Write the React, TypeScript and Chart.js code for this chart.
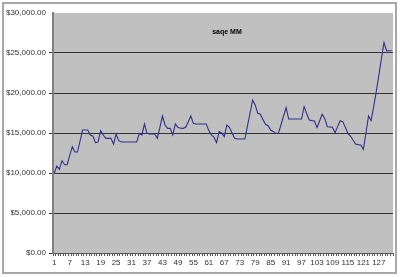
import React, { useEffect, useRef } from 'react';
import { Chart, registerables } from 'chart.js';

Chart.register(...registerables);

const categories: string[] = Array.from({ length: 132 }, (_, i) => String(i + 1));

const values: number[] = [
  10000, 10870, 10460, 11540, 11040, 11040, 12200, 13290, 12620, 12620,
  14000, 15370, 15370, 15370, 14750, 14600, 13790, 13870, 15290, 14750,
  14330, 14330, 14330, 13620, 14870, 14040, 13870, 13870, 13870, 13870,
  13870, 13870, 13870, 14960, 14750, 16120, 14960, 14870, 14870, 14870,
  14330, 15700, 17120, 16000, 15580, 15580, 14750, 16120, 15710, 15600,
  15580, 15710, 16400, 17120, 16210, 16120, 16120, 16120, 16120, 16120,
  15300, 14750, 14460, 13790, 15170, 15000, 14540, 16000, 15710, 15000,
  14330, 14250, 14250, 14250, 14250, 15900, 17500, 19120, 18500, 17460,
  17340, 16700, 16090, 15920, 15370, 15200, 14960, 14960, 16000, 17100,
  18160, 16750, 16750, 16750, 16750, 16750, 16750, 18290, 17400, 16620,
  16550, 16500, 15660, 16500, 17340, 16830, 15790, 15750, 15710, 15040,
  15800, 16540, 16420, 15700, 14960, 14620, 14100, 13620, 13550, 13500,
  12960, 15000, 17120, 16540, 18300, 20160, 22200, 24300, 26290, 25290,
  25290, 25290,
];

const yMin = 0;
const yMax = 30000;
const yStep = 5000;
const labelEvery = 6;
const chartTitle = 'saqe MM';

const fmtMoney = (v: number) =>
  '$' + v.toLocaleString('en-US', { minimumFractionDigits: 2, maximumFractionDigits: 2 });

export default function App() {
  const ref = useRef<HTMLCanvasElement>(null);

  useEffect(() => {
    if (!ref.current) return;
    const deco = {
      id: 'deco',
      beforeDraw(chart: any) {
        const { ctx, chartArea: a } = chart;
        ctx.save();
        ctx.fillStyle = '#ffffff';
        ctx.fillRect(0, 0, chart.width, chart.height);
        ctx.strokeStyle = '#a8a8a8';
        ctx.lineWidth = 2;
        ctx.strokeRect(3, 3, 393, 270);
        ctx.fillStyle = '#c0c0c0';
        ctx.fillRect(a.left, a.top, a.right - a.left, a.bottom - a.top);
        ctx.restore();
      },
      afterDraw(chart: any) {
        const { ctx } = chart;
        ctx.save();
        ctx.fillStyle = '#000000';
        ctx.font = 'bold 7px "Liberation Sans", Arial, sans-serif';
        ctx.textAlign = 'center';
        ctx.textBaseline = 'middle';
        ctx.fillText(chartTitle, 227, 32);
        ctx.restore();
      },
    };

    const chart = new Chart(ref.current, {
      type: 'line',
      data: {
        labels: categories,
        datasets: [
          {
            data: values,
            borderColor: '#30308a',
            borderWidth: 1.1,
            pointRadius: 0,
            tension: 0,
            fill: false,
          },
        ],
      },
      options: {
        responsive: false,
        animation: false,
        devicePixelRatio: 1,
        layout: { padding: { left: 0, right: 7, top: 13, bottom: 0 } },
        plugins: {
          legend: { display: false },
          tooltip: { enabled: false },
          title: { display: false },
        },
        scales: {
          x: {
            type: 'category',
            offset: true,
            afterFit: (s: any) => {
              s.height = 24;
            },
            grid: {
              offset: true,
              drawOnChartArea: false,
              drawTicks: true,
              tickLength: 3,
              color: '#555555',
            },
            border: { display: true, color: '#555555', width: 1 },
            ticks: {
              autoSkip: false,
              maxRotation: 0,
              minRotation: 0,
              padding: 2,
              color: '#333333',
              font: { family: '"Liberation Sans", Arial, sans-serif', size: 8 },
              callback: (_v: any, i: number) => (i % labelEvery === 0 ? categories[i] : ''),
            },
          },
          y: {
            min: yMin,
            max: yMax,
            afterFit: (s: any) => {
              s.width = 53;
            },
            grid: {
              color: (c: any) => (c.tick && c.tick.value === yMax ? 'rgba(0,0,0,0)' : '#333333'),
              lineWidth: 1,
              drawTicks: true,
              tickLength: 4,
            },
            border: { display: true, color: '#808080', width: 2 },
            ticks: {
              stepSize: yStep,
              padding: 3,
              color: '#333333',
              font: { family: '"Liberation Sans", Arial, sans-serif', size: 8 },
              callback: (v: any) => fmtMoney(Number(v)),
            },
          },
        },
      },
      plugins: [deco],
    } as any);

    return () => chart.destroy();
  }, []);

  return (
    <div style={{ position: 'fixed', left: 0, top: 0, width: 400, height: 277, background: '#fff' }}>
      <canvas ref={ref} width={400} height={277} style={{ display: 'block', width: 400, height: 277 }} />
    </div>
  );
}
